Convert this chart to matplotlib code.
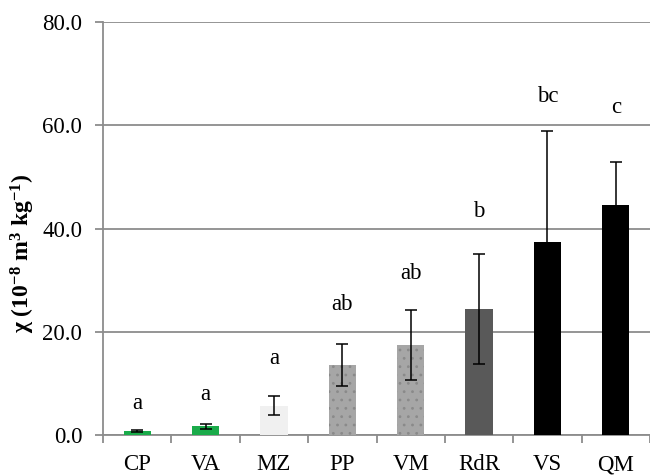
import matplotlib
matplotlib.use("Agg")
import matplotlib.pyplot as plt
import numpy as np

categories = ["CP", "VA", "MZ", "PP", "VM", "RdR", "VS", "QM"]
means = [0.7, 1.7, 5.7, 13.6, 17.4, 24.4, 37.3, 44.6]
errors = [0.2, 0.5, 1.9, 4.1, 6.8, 10.6, 21.6, 8.2]
letters = ["a", "a", "a", "ab", "ab", "b", "bc", "c"]
letter_y = [6.2, 7.8, 14.9, 25.2, 31.2, 43.2, 65.5, 63.4]
colors = ["#1aab4a", "#1aab4a", "#f0f0f0", "#a6a6a6", "#a6a6a6", "#595959", "#000000", "#000000"]
hatches = [None, None, None, "..", "..", None, None, None]
yticks = [0, 20, 40, 60, 80]

plt.rcParams["font.family"] = ["Liberation Serif", "DejaVu Serif"]
plt.rcParams["mathtext.fontset"] = "custom"
plt.rcParams["mathtext.rm"] = "Liberation Serif:bold"
plt.rcParams["mathtext.it"] = "Liberation Serif:bold:italic"
plt.rcParams["mathtext.bf"] = "Liberation Serif:bold"
plt.rcParams["hatch.linewidth"] = 0.8

fig = plt.figure(figsize=(6.5, 4.76), dpi=100)
ax = fig.add_axes([0.1585, 0.0861, 0.8415, 0.8677])

x = np.arange(len(categories))
for i in range(len(categories)):
    ax.bar(x[i], means[i], width=0.4, color=colors[i],
           edgecolor="#8a8a8a" if hatches[i] else colors[i],
           linewidth=0, hatch=hatches[i], zorder=3)
ax.errorbar(x, means, yerr=errors, fmt="none", ecolor="black",
            elinewidth=1.1, capsize=4.3, capthick=1.1, zorder=4)

for i in range(len(categories)):
    ax.text(x[i], letter_y[i], letters[i], ha="center", va="center",
            fontsize=16.5, color="black")

ax.set_xlim(-0.5, len(categories) - 0.5)
ax.set_ylim(0, 80)
ax.set_yticks(yticks)
ax.set_yticklabels([f"{v:.1f}" for v in yticks], fontsize=16.5)
ax.yaxis.grid(True, color="#8c8c8c", linewidth=1.3, zorder=0)
ax.set_axisbelow(True)

ax.set_xticks(np.arange(len(categories) + 1) - 0.5)
ax.set_xticklabels([])
ax.set_xticks(x, minor=True)
ax.set_xticklabels(categories, minor=True, fontsize=16.5)
ax.tick_params(axis="x", which="major", length=6, width=1.3, color="#8c8c8c", direction="out")
ax.tick_params(axis="x", which="minor", length=0, pad=14)
ax.tick_params(axis="y", length=6, width=1.3, color="#8c8c8c", pad=9)

for s in ["top", "right"]:
    ax.spines[s].set_visible(False)
for s in ["left", "bottom"]:
    ax.spines[s].set_color("#8c8c8c")
    ax.spines[s].set_linewidth(1.3)

ax.set_ylabel("χ (10$^{-8}$ m$^{3}$ kg$^{-1}$)", fontsize=17, fontweight="bold")
ax.yaxis.set_label_coords(-0.12, 0.44)

fig.savefig("out.png", dpi=100)
